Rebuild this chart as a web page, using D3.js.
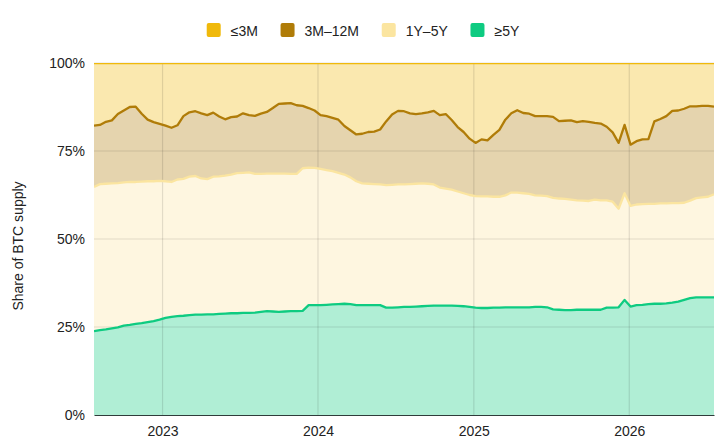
<!DOCTYPE html>
<html>
<head>
<meta charset="utf-8">
<script src="https://cdn.jsdelivr.net/npm/d3@7"></script>
<style>
  html, body { margin: 0; padding: 0; background: #ffffff; }
  svg { display: block; font-family: "Liberation Sans", Arial, sans-serif; }
</style>
</head>
<body>
<div id="chart"></div>
<script>
// Share of BTC supply by coin age, one reading every two weeks (values in %)
const startDate = new Date(2022, 6, 24);
const stepDays = 14;

const ge5y = [
  23.8, 24.1, 24.3, 24.6, 24.9, 25.4, 25.6, 25.9, 26.1, 26.4,
  26.7, 27.1, 27.6, 27.9, 28.1, 28.2, 28.4, 28.5, 28.5, 28.6,
  28.6, 28.7, 28.8, 28.9, 28.9, 29.0, 29.0, 29.1, 29.3, 29.5,
  29.4, 29.3, 29.4, 29.5, 29.5, 29.6, 31.2, 31.2, 31.2, 31.3,
  31.4, 31.5, 31.6, 31.5, 31.2, 31.2, 31.2, 31.2, 31.2, 30.5,
  30.5, 30.6, 30.7, 30.7, 30.8, 30.9, 31.0, 31.1, 31.1, 31.1,
  31.1, 31.0, 30.9, 30.7, 30.5, 30.4, 30.4, 30.5, 30.5, 30.6,
  30.6, 30.6, 30.6, 30.6, 30.7, 30.7, 30.6, 30.0, 29.9, 29.8,
  29.8, 29.9, 29.9, 29.9, 29.9, 29.9, 30.5, 30.5, 30.6, 32.7,
  30.8, 31.2, 31.3, 31.5, 31.6, 31.6, 31.7, 31.9, 32.2, 32.7,
  33.2, 33.4, 33.4, 33.4, 33.4
];

const y1to5 = [
  41.0, 41.5, 41.4, 41.2, 41.0, 40.7, 40.6, 40.3, 40.2, 40.0,
  39.7, 39.4, 38.8, 38.3, 38.8, 38.9, 39.3, 39.4, 38.7, 38.4,
  39.1, 39.1, 39.2, 39.4, 39.8, 39.8, 39.9, 39.4, 39.2, 39.1,
  39.2, 39.3, 39.2, 39.0, 39.0, 40.5, 39.1, 39.0, 38.7, 38.3,
  37.9, 37.3, 36.7, 36.0, 35.2, 34.6, 34.5, 34.4, 34.3, 34.8,
  34.9, 34.9, 34.8, 34.9, 34.9, 34.9, 34.7, 34.4, 33.5, 33.2,
  32.9, 32.5, 32.1, 31.8, 31.7, 31.7, 31.7, 31.5, 31.5, 31.8,
  32.6, 32.6, 32.4, 32.2, 31.7, 31.6, 31.6, 31.7, 31.6, 31.6,
  31.4, 31.1, 31.0, 30.9, 31.3, 31.1, 30.5, 30.1, 28.0, 30.3,
  28.6, 28.6, 28.6, 28.5, 28.4, 28.5, 28.4, 28.3, 28.0, 27.6,
  27.7, 28.2, 28.4, 28.6, 29.3
];

const m3to12 = [
  17.4, 16.8, 17.6, 17.9, 19.6, 20.4, 21.3, 21.4, 19.3, 17.5,
  16.8, 16.2, 15.8, 15.4, 15.4, 17.8, 18.3, 18.4, 18.5, 18.2,
  18.2, 17.0, 16.0, 16.3, 16.1, 16.9, 16.3, 16.5, 17.1, 17.5,
  18.6, 19.8, 19.9, 20.1, 19.5, 17.7, 16.9, 16.3, 15.3, 15.3,
  15.1, 15.1, 13.8, 13.4, 13.3, 14.1, 14.7, 14.9, 15.6, 18.1,
  20.0, 20.9, 20.8, 20.1, 19.8, 19.9, 20.3, 20.9, 20.6, 21.2,
  19.8, 18.3, 17.4, 16.0, 15.1, 16.2, 15.9, 17.6, 19.0, 21.5,
  22.5, 23.4, 22.8, 22.8, 22.5, 22.6, 22.7, 23.0, 22.0, 22.2,
  22.5, 22.2, 22.6, 22.5, 21.8, 21.8, 20.9, 19.7, 18.7, 19.4,
  17.4, 18.0, 18.4, 18.4, 23.4, 24.0, 24.8, 26.2, 26.3, 26.7,
  26.8, 26.1, 26.0, 25.8, 24.9
];

const le3m = [
  17.8, 17.6, 16.7, 16.3, 14.5, 13.5, 12.5, 12.4, 14.4, 16.1,
  16.8, 17.3, 17.8, 18.4, 17.7, 15.1, 14.0, 13.7, 14.3, 14.8,
  14.1, 15.2, 16.0, 15.4, 15.2, 14.3, 14.8, 15.0, 14.4, 13.9,
  12.8, 11.6, 11.5, 11.4, 12.0, 12.2, 12.8, 13.5, 14.8, 15.1,
  15.6, 16.1, 17.9, 19.1, 20.3, 20.1, 19.6, 19.5, 18.9, 16.6,
  14.6, 13.6, 13.7, 14.3, 14.5, 14.3, 14.0, 13.6, 14.8, 14.5,
  16.2, 18.2, 19.6, 21.5, 22.7, 21.7, 22.0, 20.4, 19.0, 16.1,
  14.3, 13.4, 14.2, 14.4, 15.1, 15.1, 15.1, 15.3, 16.5, 16.4,
  16.3, 16.8, 16.5, 16.7, 17.0, 17.2, 18.1, 19.7, 22.7, 17.6,
  23.2, 22.2, 21.7, 21.6, 16.6, 15.9, 15.1, 13.6, 13.5, 13.0,
  12.3, 12.3, 12.2, 12.2, 12.4
];

const seriesKeys = ['ge5y', 'y1to5', 'm3to12', 'le3m'];   // bottom to top
const seriesLabels = { le3m: '≤3M', m3to12: '3M–12M', y1to5: '1Y–5Y', ge5y: '≥5Y' };
const legendOrder = ['le3m', 'm3to12', 'y1to5', 'ge5y'];
const yTicks = [0, 25, 50, 75, 100];

const colors = {
  le3m: '#F0B90B',
  m3to12: '#B07C08',
  y1to5: '#FBE5A0',
  ge5y: '#0ECB81'
};

const rows = ge5y.map((v, i) => ({
  date: d3.timeDay.offset(startDate, i * stepDays),
  ge5y: v,
  y1to5: y1to5[i],
  m3to12: m3to12[i],
  le3m: le3m[i]
}));

// Layout
const totalWidth = 726, totalHeight = 448;
const margin = { top: 63, right: 12, bottom: 33, left: 94 };
const width = totalWidth - margin.left - margin.right;
const height = totalHeight - margin.top - margin.bottom;

const svg = d3.select('#chart')
  .append('svg')
  .attr('width', totalWidth)
  .attr('height', totalHeight);

svg.append('defs').append('clipPath')
  .attr('id', 'plot-clip')
  .append('rect')
  .attr('width', width)
  .attr('height', height);

const g = svg.append('g')
  .attr('transform', `translate(${margin.left},${margin.top})`);

// Scales
const x = d3.scaleTime()
  .domain(d3.extent(rows, d => d.date))
  .range([0, width]);

const y = d3.scaleLinear()
  .domain([0, 100])
  .range([height, 0]);

const stacked = d3.stack().keys(seriesKeys)(rows);

// Stacked bands
const area = d3.area()
  .x(d => x(d.data.date))
  .y0(d => y(d[0]))
  .y1(d => y(d[1]));

g.append('g')
  .attr('clip-path', 'url(#plot-clip)')
  .selectAll('path')
  .data(stacked)
  .join('path')
  .attr('fill', s => colors[s.key])
  .attr('fill-opacity', 0.33)
  .attr('d', area);

// Grid
const xTicks = x.ticks(d3.timeYear.every(1));

g.append('g')
  .attr('class', 'grid')
  .selectAll('line.h')
  .data(yTicks.filter(t => t > 0))
  .join('line')
  .attr('x1', 0)
  .attr('x2', width)
  .attr('y1', d => y(d))
  .attr('y2', d => y(d))
  .attr('stroke', '#000')
  .attr('stroke-opacity', 0.11)
  .attr('stroke-width', 1.2);

g.append('g')
  .attr('class', 'grid')
  .selectAll('line')
  .data(xTicks)
  .join('line')
  .attr('x1', d => x(d))
  .attr('x2', d => x(d))
  .attr('y1', 0)
  .attr('y2', height)
  .attr('stroke', '#000')
  .attr('stroke-opacity', 0.11)
  .attr('stroke-width', 1.2);

// Top edge lines of each band
const line = d3.line()
  .x(d => x(d.data.date))
  .y(d => y(d[1]));

g.append('g')
  .attr('clip-path', 'url(#plot-clip)')
  .selectAll('path')
  .data(stacked)
  .join('path')
  .attr('fill', 'none')
  .attr('stroke', s => colors[s.key])
  .attr('stroke-width', 2.3)
  .attr('stroke-linejoin', 'round')
  .attr('d', line);

// Axes
const xAxis = g.append('g')
  .attr('transform', `translate(0,${height})`)
  .call(d3.axisBottom(x)
    .ticks(d3.timeYear.every(1))
    .tickFormat(d3.timeFormat('%Y'))
    .tickSize(0)
    .tickSizeOuter(0)
    .tickPadding(11));

xAxis.select('.domain').attr('stroke', '#2f3b3a').attr('stroke-width', 1.2);
xAxis.selectAll('text').attr('font-size', 14).attr('fill', '#222');

const yAxis = g.append('g')
  .call(d3.axisLeft(y)
    .tickValues(yTicks)
    .tickFormat(d => `${d}%`)
    .tickSize(0)
    .tickPadding(9));

yAxis.select('.domain').remove();
yAxis.selectAll('text').attr('font-size', 14).attr('fill', '#222');

svg.append('text')
  .attr('transform', `translate(23,${margin.top + height / 2 + 7}) rotate(-90)`)
  .attr('text-anchor', 'middle')
  .attr('font-size', 14)
  .attr('fill', '#222')
  .text('Share of BTC supply');

// Legend
const legend = svg.append('g').attr('class', 'legend');
let cursor = 0;
legendOrder.forEach((key, i) => {
  const item = legend.append('g').attr('transform', `translate(${cursor},0)`);
  item.append('rect')
    .attr('x', 0)
    .attr('y', 23)
    .attr('width', 14)
    .attr('height', 14)
    .attr('rx', 2)
    .attr('fill', colors[key]);
  const label = item.append('text')
    .attr('x', 24)
    .attr('y', 36)
    .attr('font-size', 14)
    .attr('fill', '#222')
    .text(seriesLabels[key]);
  cursor += 24 + label.node().getComputedTextLength() + (i < legendOrder.length - 1 ? 22.7 : 0);
});
legend.attr('transform', `translate(${(totalWidth - cursor) / 2},0)`);
</script>
</body>
</html>
